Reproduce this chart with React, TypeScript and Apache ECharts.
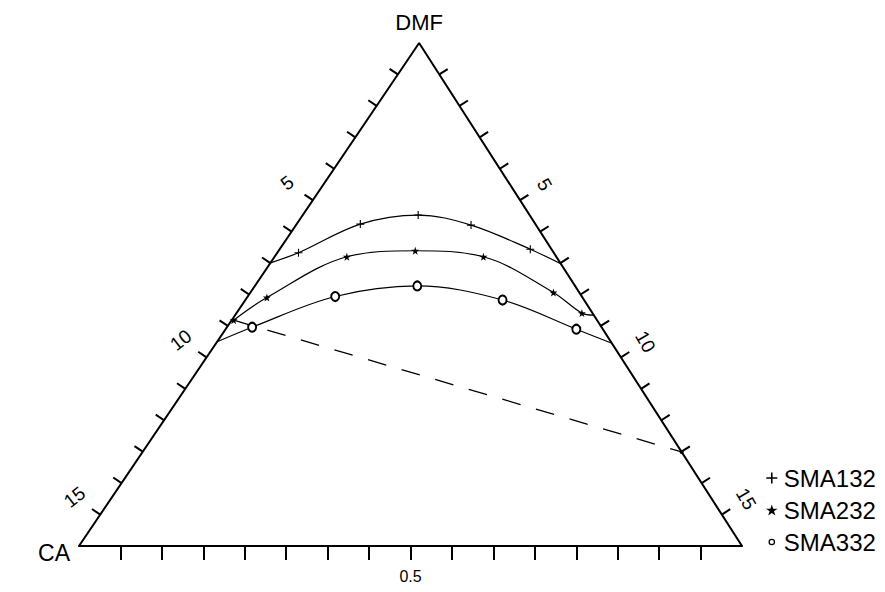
import React, { useEffect, useRef } from 'react';
import * as echarts from 'echarts';

const FONT = '"Liberation Sans", Arial, Helvetica, sans-serif';

// Triangle layout: CA at (0,0), the third component at (1,0), DMF apex at (APEX_X,1)
const APEX_X = 0.513;
const DIVISIONS = 16;

// Side scales (ticks counted from the DMF apex)
const sideTickLabels = ['5', '10', '15'];
const sideTickLabelAt = [5, 10, 15];
// Base scale
const baseTickLabels = [0.5];

// Compositions as [third-component fraction, DMF fraction]; CA = 1 - both
const sma132Ends = [[0, 0.563], [0.439, 0.561]];
const sma132Pts = [[0.032, 0.583], [0.096, 0.640], [0.174, 0.658], [0.264, 0.638], [0.378, 0.590]];

const sma232Ends = [null, [0.541, 0.459]];
const sma232Pts = [[0.003, 0.449], [0.030, 0.494], [0.109, 0.575], [0.206, 0.587], [0.315, 0.575], [0.457, 0.504], [0.521, 0.463]];

const sma332Ends = [[0, 0.406], [0.597, 0.403]];
const sma332Pts = [[0.038, 0.435], [0.132, 0.496], [0.245, 0.517], [0.388, 0.489], [0.529, 0.431]];

const tieLine = [[0.003, 0.449], [0.813, 0.187]];

const vertexNames = ['DMF', 'CA'];

const PLUS = 'path://M4.3,0H5.7V4.3H10V5.7H5.7V10H4.3V5.7H0V4.3H4.3Z';
const STAR = 'path://M5,0L6.2,3.6L10,3.6L6.9,5.9L8.1,9.5L5,7.3L1.9,9.5L3.1,5.9L0,3.6L3.8,3.6Z';
const RING = 'path://M0,0M10,10M5,2A3,3,0,0,1,5,8A3,3,0,0,1,5,2ZM5,3.1A1.9,1.9,0,0,0,5,6.9A1.9,1.9,0,0,0,5,3.1Z';

const toXY = (p: number[]) => [p[0] + APEX_X * p[1], p[1]];

function curveData(ends: (number[] | null)[], pts: number[][]) {
  const out: any[] = [];
  if (ends[0]) out.push({ value: toXY(ends[0]), symbol: 'none' });
  pts.forEach((p) => out.push({ value: toXY(p) }));
  if (ends[1]) out.push({ value: toXY(ends[1]), symbol: 'none' });
  return out;
}

export default function App() {
  const ref = useRef<HTMLDivElement>(null);

  useEffect(() => {
    document.body.style.margin = '0';
    if (!ref.current) return;
    const chart = echarts.init(ref.current, null, { renderer: 'svg' });

    const baseTicks: number[] = [];
    for (let i = 1; i < DIVISIONS; i++) baseTicks.push(i / DIVISIONS);

    // side tick data: [fraction from apex, side (0 left, 1 right), label index]
    const sideTicks: number[][] = [];
    for (let s = 0; s < 2; s++) {
      for (let i = 1; i < DIVISIONS; i++) {
        sideTicks.push([i / DIVISIONS, s, sideTickLabelAt.indexOf(i)]);
      }
    }

    const lineCommon = {
      type: 'line',
      smooth: 0.35,
      clip: false,
      color: '#000',
      lineStyle: { color: '#000', width: 1.2 },
      z: 3,
    };

    const option: any = {
      animation: false,
      backgroundColor: '#fff',
      grid: { left: 79, right: 143, top: 43, bottom: 46 },
      xAxis: {
        type: 'value',
        min: 0,
        max: 1,
        splitLine: { show: false },
        axisLine: { show: true, lineStyle: { color: '#000', width: 2 } },
        axisTick: {
          show: true,
          inside: false,
          length: 14,
          customValues: baseTicks,
          lineStyle: { color: '#000', width: 2 },
        },
        axisLabel: {
          customValues: baseTickLabels,
          formatter: (v: number) => String(v),
          color: '#000',
          fontFamily: FONT,
          fontSize: 16,
          margin: 22,
        },
      },
      yAxis: { type: 'value', min: 0, max: 1, show: false },
      legend: {
        orient: 'vertical',
        left: 761,
        top: 461,
        itemWidth: 14,
        itemHeight: 11,
        itemGap: 8,
        selectedMode: false,
        itemStyle: { borderWidth: 0 },
        textStyle: { color: '#000', fontFamily: FONT, fontSize: 24, lineHeight: 24 },
        data: [
          { name: 'SMA132', icon: PLUS },
          { name: 'SMA232', icon: STAR },
          { name: 'SMA332', icon: RING },
        ],
      },
      series: [
        {
          type: 'line',
          silent: true,
          symbol: 'none',
          data: [[0, 0], [APEX_X, 1], [1, 0]],
          lineStyle: { color: '#000', width: 2 },
          z: 2,
        },
        {
          type: 'custom',
          silent: true,
          data: sideTicks,
          renderItem: (params: any, api: any) => {
            const f = api.value(0);
            const side = api.value(1);
            const li = api.value(2);
            const apex = api.coord([APEX_X, 1]);
            const base = api.coord(side === 0 ? [0, 0] : [1, 0]);
            const dx = base[0] - apex[0];
            const dy = base[1] - apex[1];
            const len = Math.hypot(dx, dy);
            const nx = side === 0 ? -dy / len : dy / len;
            const ny = side === 0 ? dx / len : -dx / len;
            const px = apex[0] + dx * f;
            const py = apex[1] + dy * f;
            const children: any[] = [
              {
                type: 'line',
                shape: { x1: px, y1: py, x2: px + nx * 10, y2: py + ny * 10 },
                style: { stroke: '#000', lineWidth: 2 },
              },
            ];
            if (li >= 0) {
              const d = side === 0 ? 31 : 29;
              children.push({
                type: 'text',
                x: px + nx * d,
                y: py + ny * d,
                rotation: side === 0 ? (38 * Math.PI) / 180 : (-60 * Math.PI) / 180,
                style: {
                  text: sideTickLabels[li],
                  fill: '#000',
                  fontFamily: FONT,
                  fontSize: 19,
                  align: 'center',
                  verticalAlign: 'middle',
                },
              });
            }
            return { type: 'group', children };
          },
          z: 2,
        },
        {
          type: 'custom',
          silent: true,
          data: [[APEX_X, 1, 0], [0, 0, 1]],
          renderItem: (params: any, api: any) => {
            const idx = api.value(2);
            const p = api.coord([api.value(0), api.value(1)]);
            const off = idx === 0 ? [0, -21] : [-25, 7];
            return {
              type: 'text',
              x: p[0] + off[0],
              y: p[1] + off[1],
              style: {
                text: vertexNames[idx],
                fill: '#000',
                fontFamily: FONT,
                fontSize: idx === 0 ? 22 : 23,
                align: 'center',
                verticalAlign: 'middle',
              },
            };
          },
        },
        {
          ...lineCommon,
          name: 'SMA132',
          symbol: PLUS,
          symbolSize: 8,
          itemStyle: { color: '#000', borderWidth: 0 },
          data: curveData(sma132Ends, sma132Pts),
        },
        {
          ...lineCommon,
          name: 'SMA232',
          symbol: STAR,
          symbolSize: 8,
          itemStyle: { color: '#000', borderWidth: 0 },
          data: curveData(sma232Ends, sma232Pts),
        },
        {
          ...lineCommon,
          name: 'SMA332',
          symbol: 'emptyCircle',
          symbolSize: [8, 9],
          itemStyle: { color: '#000', borderWidth: 1.5 },
          data: curveData(sma332Ends, sma332Pts),
        },
        {
          type: 'line',
          silent: true,
          clip: false,
          data: [
            { value: toXY(tieLine[0]), symbol: 'none' },
            { value: toXY(tieLine[1]), symbol: 'circle', symbolSize: 4 },
          ],
          itemStyle: { color: '#000' },
          lineStyle: { color: '#000', width: 1.3, type: [19, 16] },
          z: 3,
        },
      ],
    };

    chart.setOption(option);
    return () => chart.dispose();
  }, []);

  return <div ref={ref} style={{ width: 885, height: 592 }} />;
}
